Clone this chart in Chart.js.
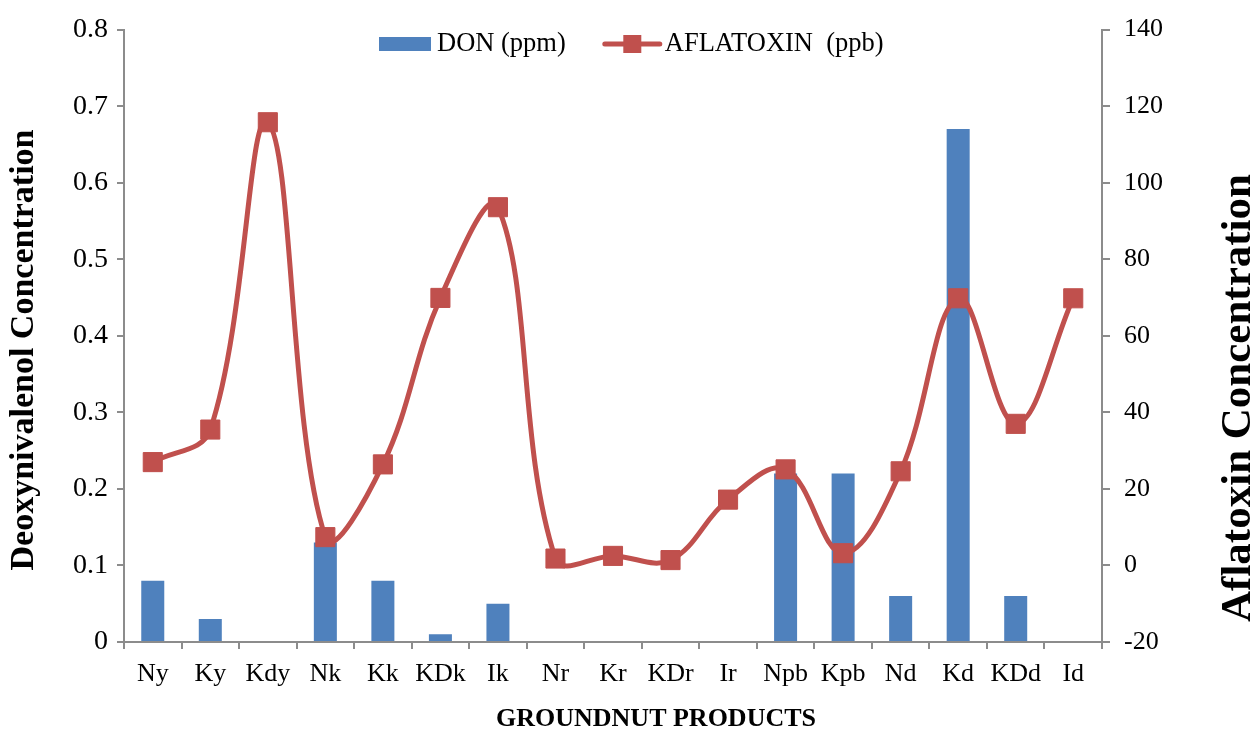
<!DOCTYPE html>
<html>
<head>
<meta charset="utf-8">
<script src="https://cdn.jsdelivr.net/npm/chart.js@4/dist/chart.umd.min.js"></script>
<style>
  html, body { margin: 0; padding: 0; background: #fff; }
  #wrap { width: 1255px; height: 731px; }
</style>
</head>
<body>
<div id="wrap"><canvas id="chart"></canvas></div>
<script>
// groundnut products and their readings
const products = ['Ny', 'Ky', 'Kdy', 'Nk', 'Kk', 'KDk', 'Ik', 'Nr', 'Kr', 'KDr', 'Ir', 'Npb', 'Kpb', 'Nd', 'Kd', 'KDd', 'Id'];
const donPpm = [0.08, 0.03, 0, 0.13, 0.08, 0.01, 0.05, 0, 0, 0, 0, 0.22, 0.22, 0.06, 0.67, 0.06, 0];
const aflatoxinPpb = [27.0, 35.5, 115.8, 7.4, 26.4, 69.9, 93.6, 1.8, 2.5, 1.4, 17.2, 25.1, 3.2, 24.6, 69.8, 37.0, 69.8];

const xTitle = 'GROUNDNUT PRODUCTS';
const leftTitle = 'Deoxynivalenol Concentration';
const rightTitle = 'Aflatoxin Concentration';

const BLUE = '#4F81BD';
const RED = '#C0504D';
const AXIS = '#8c8c8c';
const SERIF = "'Liberation Serif', 'Times New Roman', serif";

// Excel-style legend: box for the bars, line + square for the line series
const legendPlugin = {
    id: 'excelLegend',
    afterDraw(chart) {
        const ctx = chart.ctx;
        const bar = chart.data.datasets.find(d => d.type === 'bar');
        const line = chart.data.datasets.find(d => d.type === 'line');
        const y = 44;
        ctx.save();
        ctx.font = '26.5px ' + SERIF;
        ctx.textBaseline = 'middle';
        let x = 379;
        ctx.fillStyle = bar.backgroundColor;
        ctx.fillRect(x, y - 7, 52, 14);
        x += 52 + 6;
        ctx.fillStyle = '#000';
        ctx.fillText(bar.label, x, y);
        x += ctx.measureText(bar.label).width + 39;
        ctx.strokeStyle = line.borderColor;
        ctx.lineWidth = 5;
        ctx.lineCap = 'round';
        ctx.beginPath();
        ctx.moveTo(x, y);
        ctx.lineTo(x + 55, y);
        ctx.stroke();
        ctx.fillStyle = line.pointBackgroundColor;
        ctx.fillRect(x + 27.5 - 9, y - 9, 18, 18);
        x += 55 + 5;
        ctx.fillStyle = '#000';
        ctx.fillText(line.label, x, y);
        ctx.restore();
    }
};

// axis titles, both vertical ones read bottom-to-top like the original
const titlePlugin = {
    id: 'axisTitles',
    afterDraw(chart) {
        const ctx = chart.ctx;
        ctx.save();
        ctx.fillStyle = '#000';
        ctx.textAlign = 'center';
        ctx.textBaseline = 'middle';

        ctx.font = 'bold 26px ' + SERIF;
        ctx.fillText(xTitle, 656, 719);

        ctx.save();
        ctx.translate(24, 350);
        ctx.rotate(-Math.PI / 2);
        ctx.font = 'bold 34px ' + SERIF;
        ctx.fillText(leftTitle, 0, 0);
        ctx.restore();

        ctx.save();
        ctx.translate(1239, 398);
        ctx.rotate(-Math.PI / 2);
        ctx.font = 'bold 43px ' + SERIF;
        ctx.fillText(rightTitle, 0, 0);
        ctx.restore();

        ctx.restore();
    }
};

new Chart(document.getElementById('chart'), {
    data: {
        labels: products,
        datasets: [
            {
                type: 'line',
                label: 'AFLATOXIN  (ppb)',
                data: aflatoxinPpb,
                yAxisID: 'y1',
                borderColor: RED,
                borderWidth: 5,
                backgroundColor: RED,
                pointStyle: 'rect',
                pointRadius: 13.5,
                pointBorderWidth: 1,
                pointBackgroundColor: RED,
                pointBorderColor: RED,
                tension: 0.38,
                order: 0
            },
            {
                type: 'bar',
                label: 'DON (ppm)',
                data: donPpm,
                yAxisID: 'y',
                backgroundColor: BLUE,
                barPercentage: 0.4,
                categoryPercentage: 1,
                order: 1
            }
        ]
    },
    options: {
        responsive: true,
        maintainAspectRatio: false,
        animation: false,
        layout: { padding: { top: 27, left: 0, right: 0, bottom: 0 } },
        plugins: {
            legend: { display: false },
            tooltip: { enabled: false }
        },
        scales: {
            x: {
                offset: true,
                grid: { display: true, drawOnChartArea: false, offset: true, tickLength: 7, color: AXIS, lineWidth: 2 },
                border: { color: AXIS, width: 2 },
                ticks: { color: '#000', font: { family: SERIF, size: 26 }, padding: 10, maxRotation: 0, autoSkip: false },
                afterFit(s) { s.height = 89; }
            },
            y: {
                position: 'left',
                min: 0, max: 0.8,
                grid: { display: true, drawOnChartArea: false, tickLength: 7, color: AXIS, lineWidth: 2 },
                border: { color: AXIS, width: 2 },
                ticks: {
                    stepSize: 0.1, color: '#000', padding: 9,
                    font: { family: SERIF, size: 28 },
                    callback: v => String(Number(v.toFixed(1)))
                },
                afterFit(s) { s.width = 124; }
            },
            y1: {
                position: 'right',
                min: -20, max: 140,
                grid: { display: true, drawOnChartArea: false, tickLength: 8, color: AXIS, lineWidth: 2 },
                border: { color: AXIS, width: 2 },
                ticks: { stepSize: 20, color: '#000', padding: 14, font: { family: SERIF, size: 26 } },
                afterFit(s) { s.width = 153; }
            }
        }
    },
    plugins: [legendPlugin, titlePlugin]
});
</script>
</body>
</html>
